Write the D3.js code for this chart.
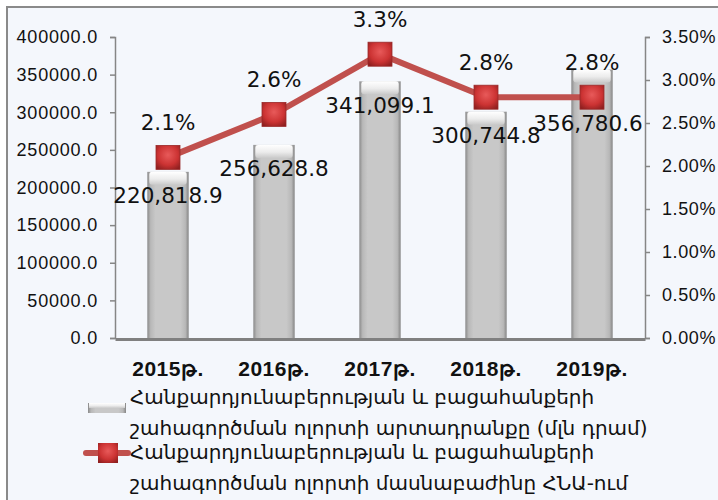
<!DOCTYPE html>
<html>
<head>
<meta charset="utf-8">
<script src="https://cdn.jsdelivr.net/npm/d3@7"></script>
<style>
  body { margin: 0; background: #fff; }
  svg { display: block; font-family: "DejaVu Sans", "Noto Sans", sans-serif; }
</style>
</head>
<body>
<div id="chart"></div>
<script>
const years = ["2015թ.", "2016թ.", "2017թ.", "2018թ.", "2019թ."];
const output = [220818.9, 256628.8, 341099.1, 300744.8, 356780.6];
const share = [2.1, 2.6, 3.3, 2.8, 2.8];
const leftTicks = [0, 50000, 100000, 150000, 200000, 250000, 300000, 350000, 400000];
const rightTicks = [0, 0.5, 1, 1.5, 2, 2.5, 3, 3.5];
const legendBar = ["Հանքարդյունաբերության և բացահանքերի", "շահագործման ոլորտի արտադրանքը (մլն դրամ)"];
const legendLine = ["Հանքարդյունաբերության և բացահանքերի", "շահագործման ոլորտի մասնաբաժինը ՀՆԱ-ում"];

const width = 718, height = 500;
const margin = {top: 37, left: 115, right: 73, bottom: 162};

const svg = d3.select("#chart").append("svg")
  .attr("width", width)
  .attr("height", height);

const defs = svg.append("defs");
const gBar = defs.append("linearGradient").attr("id", "barGrad");
[["0%", "#8a8a8a"], ["8%", "#b8b8b8"], ["20%", "#c8c8c8"], ["80%", "#c8c8c8"], ["92%", "#b8b8b8"], ["100%", "#858585"]]
  .forEach(([o, c]) => gBar.append("stop").attr("offset", o).attr("stop-color", c));
const gCap = defs.append("linearGradient").attr("id", "capGrad").attr("x2", 0).attr("y2", 1);
[["0%", "#ffffff"], ["55%", "#ececec"], ["100%", "#cacaca"]]
  .forEach(([o, c]) => gCap.append("stop").attr("offset", o).attr("stop-color", c));
const gMark = defs.append("radialGradient").attr("id", "markGrad").attr("cx", "50%").attr("cy", "40%").attr("r", "70%");
[["0%", "#e85a5a"], ["60%", "#cc3333"], ["100%", "#8e1f1f"]]
  .forEach(([o, c]) => gMark.append("stop").attr("offset", o).attr("stop-color", c));

// chart area background and border
svg.append("rect")
  .attr("x", 7).attr("y", 7)
  .attr("width", width + 10).attr("height", height + 10)
  .attr("fill", "#f4f7fc")
  .attr("stroke", "#8a8a8a")
  .attr("stroke-width", 2);

const x = d3.scaleBand()
  .domain(years)
  .range([margin.left, width - margin.right])
  .paddingInner(0.61)
  .paddingOuter(0.305);

const y = d3.scaleLinear().domain([0, 400000]).range([height - margin.bottom, margin.top]);
const y2 = d3.scaleLinear().domain([0, 3.5]).range([height - margin.bottom, margin.top]);

// left axis
const axL = svg.append("g")
  .attr("transform", `translate(${margin.left},0)`)
  .call(d3.axisLeft(y).tickValues(leftTicks).tickSize(5).tickPadding(12).tickFormat(d3.format(".1f")));
axL.select(".domain").attr("stroke", "#868686").attr("stroke-width", 1.5);
axL.selectAll(".tick line").attr("stroke", "#868686").attr("stroke-width", 1.5);
axL.selectAll("text").attr("font-size", 18).attr("letter-spacing", 0.8).attr("fill", "#111");

// right axis
const axR = svg.append("g")
  .attr("transform", `translate(${width - margin.right},0)`)
  .call(d3.axisRight(y2).tickValues(rightTicks).tickSize(5).tickPadding(12).tickFormat(d => d3.format(".2f")(d) + "%"));
axR.select(".domain").attr("stroke", "#868686").attr("stroke-width", 1.5);
axR.selectAll(".tick line").attr("stroke", "#868686").attr("stroke-width", 1.5);
axR.selectAll("text").attr("font-size", 18).attr("letter-spacing", 0.6).attr("fill", "#111");

// bars
const bars = svg.append("g").selectAll("g")
  .data(output)
  .join("g");
bars.append("rect")
  .attr("x", (d, i) => x(years[i]))
  .attr("y", d => y(d))
  .attr("width", x.bandwidth())
  .attr("height", d => y(0) - y(d))
  .attr("fill", "url(#barGrad)");
bars.append("rect")
  .attr("x", (d, i) => x(years[i]) + 2)
  .attr("y", d => y(d))
  .attr("width", x.bandwidth() - 4)
  .attr("height", 13)
  .attr("rx", 3)
  .attr("fill", "url(#capGrad)");

// bottom axis
const axB = svg.append("g")
  .attr("transform", `translate(0,${y(0) + 1})`)
  .call(d3.axisBottom(x).tickSize(0).tickPadding(22));
axB.select(".domain").attr("stroke", "#808080").attr("stroke-width", 3);
axB.selectAll("text").attr("font-size", 21).attr("font-weight", "bold").attr("letter-spacing", 0.5).attr("fill", "#111");

// line
const cx = i => x(years[i]) + x.bandwidth() / 2;
svg.append("path")
  .datum(share)
  .attr("fill", "none")
  .attr("stroke", "#c0504d")
  .attr("stroke-width", 6)
  .attr("d", d3.line().x((d, i) => cx(i)).y(d => y2(d)));

svg.append("g").selectAll("rect")
  .data(share)
  .join("rect")
  .attr("x", (d, i) => cx(i) - 12)
  .attr("y", d => y2(d) - 12)
  .attr("width", 24)
  .attr("height", 24)
  .attr("fill", "url(#markGrad)")
  .attr("stroke", "#9a2a2a")
  .attr("stroke-width", 0.8);

// value labels on bars (pushed under the marker when they would collide)
svg.append("g").selectAll("text")
  .data(output)
  .join("text")
  .attr("x", (d, i) => cx(i) + (y2(share[i]) > y(d) && y2(share[i]) - y(d) < 40 ? -4 : 0))
  .attr("y", (d, i) => {
    let ly = y(d) + 24;
    const my = y2(share[i]);
    if (Math.abs(ly - my) < 24) ly = my + 26;
    return ly;
  })
  .attr("text-anchor", "middle")
  .attr("dominant-baseline", "central")
  .attr("font-size", 21.5)
  .attr("fill", "#111")
  .text(d => d3.format(",.1f")(d));

// percentage labels
svg.append("g").selectAll("text")
  .data(share)
  .join("text")
  .attr("x", (d, i) => cx(i))
  .attr("y", d => y2(d) - 35)
  .attr("text-anchor", "middle")
  .attr("dominant-baseline", "central")
  .attr("font-size", 21.5)
  .attr("fill", "#111")
  .text(d => d3.format(".1f")(d) + "%");

// legend
const lg = svg.append("g").attr("font-size", 20).attr("fill", "#111");
const lx = 130;
lg.append("rect").attr("x", 88).attr("y", 403).attr("width", 38).attr("height", 10).attr("fill", "url(#barGrad)");
lg.append("rect").attr("x", 89).attr("y", 403).attr("width", 36).attr("height", 5).attr("fill", "url(#capGrad)");
lg.append("line").attr("x1", 86).attr("x2", 128).attr("y1", 453).attr("y2", 453)
  .attr("stroke", "#c0504d").attr("stroke-width", 6).attr("stroke-linecap", "round");
lg.append("rect").attr("x", 98).attr("y", 443).attr("width", 20).attr("height", 20).attr("fill", "url(#markGrad)");

[[legendBar, 397], [legendLine, 452]].forEach(([lines, top]) => {
  lg.append("text")
    .selectAll("tspan")
    .data(lines)
    .join("tspan")
    .attr("x", lx)
    .attr("y", (d, i) => top + i * 31)
    .attr("dominant-baseline", "central")
    .text(d => d);
});
</script>
</body>
</html>
